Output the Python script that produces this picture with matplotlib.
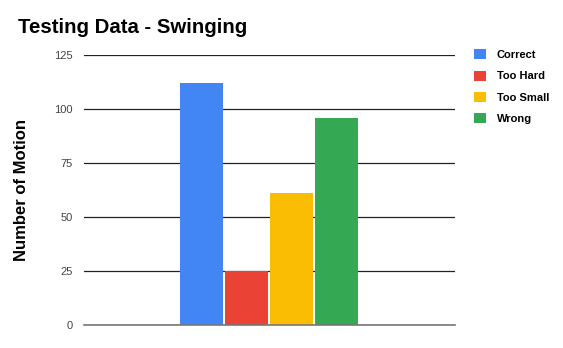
import matplotlib
matplotlib.use("Agg")
import matplotlib.pyplot as plt
import numpy as np

labels = ["Correct", "Too Hard", "Too Small", "Wrong"]
values = [112, 25, 61, 96]
colors = ["#4285f4", "#ea4335", "#fbbc04", "#34a853"]
yticks = [0, 25, 50, 75, 100, 125]

plt.rcParams["font.family"] = ["Liberation Sans", "DejaVu Sans"]

fig = plt.figure(figsize=(5.63, 3.48), dpi=100)
ax = fig.add_axes([0.149, 0.066, 0.659, 0.776])

x = np.arange(len(values))
for i, (lab, v, c) in enumerate(zip(labels, values, colors)):
    ax.bar(x[i], v, width=0.955, color=c, label=lab, zorder=3)

half = 371 / 45 / 2
ax.set_xlim(1.5 - half, 1.5 + half)
ax.set_ylim(0, 125)
ax.set_yticks(yticks)
ax.set_xticks([])
ax.grid(axis="y", color="#222222", linewidth=0.9, zorder=0)
for s in ["top", "right", "left"]:
    ax.spines[s].set_visible(False)
ax.spines["bottom"].set_color("#777777")
ax.spines["bottom"].set_linewidth(1.2)
ax.spines["bottom"].set_zorder(4)
ax.tick_params(axis="y", length=0, labelsize=8, labelcolor="#444444", pad=8)

ax.set_ylabel("Number of Motion", fontsize=12, fontweight="bold", labelpad=18)
fig.text(0.032, 0.92, "Testing Data - Swinging", fontsize=14.7, fontweight="bold", va="center")

fig.legend(loc="upper left", bbox_to_anchor=(0.825, 0.887), frameon=False,
           handlelength=1.0, handleheight=1.0, labelspacing=0.95, handletextpad=1.0,
           prop={"weight": "bold", "size": 8})

fig.savefig("out.png", dpi=100)
